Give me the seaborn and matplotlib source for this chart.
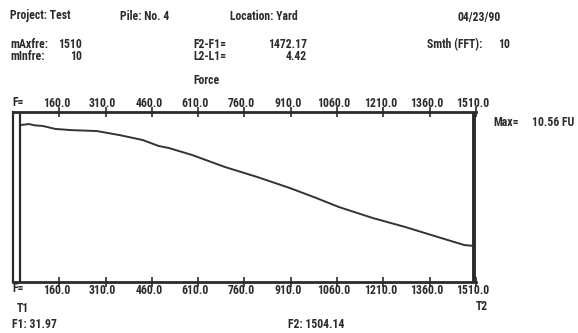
import matplotlib
matplotlib.use("Agg")
import matplotlib.pyplot as plt
from matplotlib import font_manager
import matplotlib.transforms as mtransforms
import numpy as np
import pandas as pd
import seaborn as sns

# Force spectrum (FU) against frequency
freq = [32, 48, 61, 80, 106, 147, 200, 281, 355, 430, 482, 514, 590, 696,
        801, 907, 993, 1066, 1175, 1280, 1386, 1472, 1504]
force = [10.49, 10.52, 10.56, 10.47, 10.43, 10.23, 10.15, 10.09, 9.82, 9.49,
         9.09, 8.96, 8.49, 7.69, 7.02, 6.28, 5.61, 5.01, 4.28, 3.68, 3.01,
         2.47, 2.41]

tick_values = [160, 310, 460, 610, 760, 910, 1060, 1210, 1360, 1510]
freq_min, freq_max = 10, 1510
f1_mark, f2_mark = 31.97, 1504.14
force_max = 10.56

sns.set_theme(style="white")
available = {f.name for f in font_manager.fontManager.ttflist}
family = "DejaVu Sans"
for cand in ["Liberation Sans Narrow", "DejaVu Sans Condensed", "Roboto Condensed"]:
    if cand in available:
        family = cand
        break
plt.rcParams["font.family"] = [family, "DejaVu Sans"]

INK = "#2b2b2b"
W, H = 578, 333
fig = plt.figure(figsize=(W / 100, H / 100), dpi=100)
fig.patch.set_facecolor("white")

left, right, top, bottom = 13, 476, 112, 282
ax = fig.add_axes([left / W, 1 - bottom / H, (right - left) / W, (bottom - top) / H])

df = pd.DataFrame({"freq": freq, "force": force})
sns.lineplot(data=df, x="freq", y="force", ax=ax, color="#333333", linewidth=1.4)

ax.set_xlim(freq_min, freq_max)
ax.set_ylim(0, force_max * 170 / 158)
ax.set_xlabel("")
ax.set_ylabel("")
ax.set_yticks([])
ax.set_xticks(tick_values)
ax.set_xticklabels([f"{v:.1f}" for v in tick_values])
ax.tick_params(axis="x", top=True, bottom=True, labeltop=True, labelbottom=True,
               direction="inout", length=7, width=1.2, color=INK, pad=-2,
               labelsize=8.5, labelcolor=INK)
shift = mtransforms.ScaledTranslation(-3 / 100, 0, fig.dpi_scale_trans)
for lbl in ax.get_xticklabels() + ax.xaxis.get_ticklabels(which="major"):
    lbl.set_fontweight("bold")
for tk in ax.xaxis.get_major_ticks():
    for lbl in (tk.label1, tk.label2):
        lbl.set_fontweight("bold")
        lbl.set_transform(lbl.get_transform() + shift)
for s in ["top", "bottom"]:
    ax.spines[s].set_linewidth(2.0)
    ax.spines[s].set_color(INK)
ax.spines["left"].set_linewidth(1.6)
ax.spines["left"].set_color(INK)
ax.spines["right"].set_visible(False)

ax.axvline(f1_mark, color=INK, linewidth=1.6)
ax.axvline(f2_mark, color=INK, linewidth=2.8)


def txt(x, y, s, ha="left", size=8.5):
    fig.text(x / W, 1 - y / H, s, ha=ha, va="center", color=INK,
             fontsize=size, fontweight="bold")


txt(10, 16, "Project: Test")
txt(120, 16, "Pile: No. 4")
txt(230, 16, "Location: Yard")
txt(457, 17, "04/23/90")

txt(10, 44, "mAxfre:")
txt(82, 44, "1510", ha="right")
txt(10, 56, "mInfre:")
txt(82, 56, "10", ha="right")

txt(193, 44, "F2-F1=")
txt(307, 44, "1472.17", ha="right")
txt(193, 56, "L2-L1=")
txt(307, 56, "4.42", ha="right")
txt(193, 80, "Force")

txt(427, 45, "Smth (FFT):")
txt(498, 45, "10")

txt(12, 103, "F=")
txt(493, 122, "Max=")
txt(532, 122, f"{force_max:.2f} FU")

txt(12, 289, "F=")
txt(17, 308, "T1")
txt(476, 307, "T2")
txt(12, 325, f"F1: {f1_mark:.2f}")
txt(288, 325, f"F2: {f2_mark:.2f}")

fig.savefig("out.png", dpi=100, facecolor="white")
